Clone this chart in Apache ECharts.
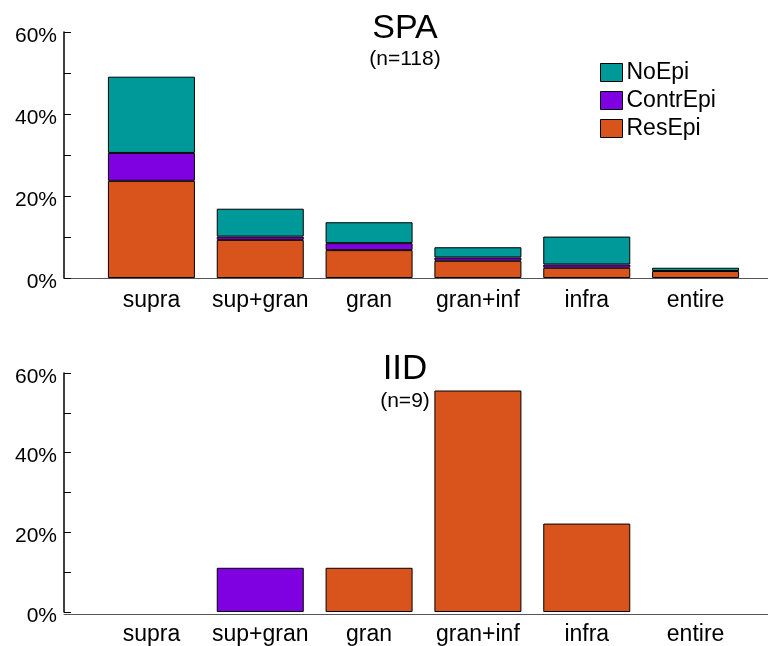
<!DOCTYPE html>
<html>
<head>
<meta charset="utf-8">
<script src="https://cdn.jsdelivr.net/npm/echarts@6/dist/echarts.min.js"></script>
<style>
html,body{margin:0;padding:0;background:#fff;}
#c{width:768px;height:646px;}
</style>
</head>
<body>
<div id="c"></div>
<script>
const categories = ['supra', 'sup+gran', 'gran', 'gran+inf', 'infra', 'entire'];
const yTicks = [0, 20, 40, 60];

// SPA (n=118), percent
const spaResEpi   = [23.7, 9.3, 6.8, 4.2, 2.5, 1.7];
const spaContrEpi = [6.8, 0.8, 1.7, 0.8, 0.8, null];
const spaNoEpi    = [18.6, 6.8, 5.1, 2.5, 6.8, 0.8];

// IID (n=9), percent
const iidResEpi   = [null, null, 11.1, 55.6, 22.2, null];
const iidContrEpi = [null, 11.1, null, null, null, null];
const iidNoEpi    = [null, null, null, null, null, null];

const colors = { NoEpi: '#009999', ContrEpi: '#7f00e0', ResEpi: '#d9541c' };
const FONT = "'Liberation Sans', Arial, sans-serif";

function catAxis(gridIndex) {
  return {
    type: 'category', gridIndex, data: categories,
    axisLine: { show: false },
    axisTick: { show: false },
    splitLine: { show: false },
    axisLabel: { color: '#000', fontSize: 23, fontFamily: FONT, margin: 11, interval: 0 }
  };
}
function lineAxis(gridIndex) {
  return {
    type: 'value', gridIndex, min: 0, max: 1,
    axisLine: { show: true, onZero: false, lineStyle: { color: '#555', width: 1 } },
    axisTick: { show: false }, axisLabel: { show: false }, splitLine: { show: false }
  };
}
function valAxis(gridIndex) {
  return {
    type: 'value', gridIndex, min: yTicks[0], max: yTicks[yTicks.length - 1], interval: 20,
    offset: 33,
    axisLine: { show: true, lineStyle: { color: '#000', width: 1.5 } },
    axisTick: { show: true, inside: true, length: 7, lineStyle: { color: '#000' } },
    minorTick: { show: true, splitNumber: 2, length: 7, lineStyle: { color: '#000' } },
    splitLine: { show: false },
    axisLabel: { formatter: '{value}%', color: '#000', fontSize: 21, fontFamily: FONT, margin: 7,
                 verticalAlign: 'top', lineHeight: 8 }
  };
}
function hiddenY(gridIndex) {
  return { type: 'value', gridIndex, min: 0, max: 1, show: false };
}
function bar(name, data, idx, stack) {
  return {
    type: 'bar', name, xAxisIndex: idx, yAxisIndex: idx, stack,
    data: data, barWidth: 87,
    itemStyle: { color: colors[name], borderColor: '#000', borderWidth: 1 },
    emphasis: { disabled: true }
  };
}

const chart = echarts.init(document.getElementById('c'), null, { renderer: 'canvas' });
chart.setOption({
  animation: false,
  textStyle: { fontFamily: FONT },
  title: [
    { text: 'SPA', subtext: '(n=118)', left: 400, top: 7, textAlign: 'center', itemGap: 3,
      textStyle: { fontSize: 34, fontWeight: 'normal', color: '#000', fontFamily: FONT },
      subtextStyle: { fontSize: 21, color: '#000', fontFamily: FONT } },
    { text: 'IID', subtext: '(n=9)', left: 400, top: 347, textAlign: 'center', itemGap: 4,
      textStyle: { fontSize: 35, fontWeight: 'normal', color: '#000', fontFamily: FONT },
      subtextStyle: { fontSize: 21, color: '#000', fontFamily: FONT } }
  ],
  legend: {
    data: ['NoEpi', 'ContrEpi', 'ResEpi'],
    orient: 'vertical', left: 600, top: 61, padding: 0, itemWidth: 22, itemHeight: 18, itemGap: 5,
    icon: 'rect',
    itemStyle: { borderColor: '#000', borderWidth: 1 },
    textStyle: { fontSize: 23, color: '#000', fontFamily: FONT, padding: [0, 0, 0, -1] },
    selectedMode: false
  },
  grid: [
    { left: 97, top: 32, width: 653, height: 246 },
    { left: 97, top: 373, width: 653, height: 241 },
    { left: 64, top: 32, width: 704, height: 246 },
    { left: 64, top: 373, width: 704, height: 241 }
  ],
  xAxis: [catAxis(0), catAxis(1), lineAxis(2), lineAxis(3)],
  yAxis: [valAxis(0), valAxis(1), hiddenY(2), hiddenY(3)],
  series: [
    bar('ResEpi', spaResEpi, 0, 'a'),
    bar('ContrEpi', spaContrEpi, 0, 'a'),
    bar('NoEpi', spaNoEpi, 0, 'a'),
    bar('ResEpi', iidResEpi, 1, 'b'),
    bar('ContrEpi', iidContrEpi, 1, 'b'),
    bar('NoEpi', iidNoEpi, 1, 'b')
  ]
});
</script>
</body>
</html>
